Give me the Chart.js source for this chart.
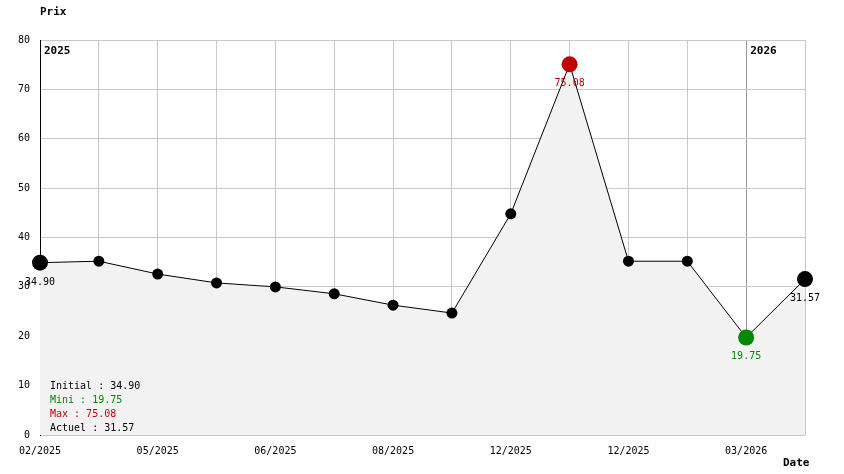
<!DOCTYPE html>
<html><head><meta charset="utf-8">
<script src="https://cdn.jsdelivr.net/npm/chart.js@4/dist/chart.umd.min.js"></script>
<style>html,body{margin:0;padding:0;background:#fff}#wrap{width:844px;height:474px}</style>
</head><body><div id="wrap"><canvas id="c" width="844" height="474"></canvas></div>
<script>
const categories = ['02/2025','03/2025','05/2025','05/2025','06/2025','07/2025','08/2025','09/2025','12/2025','12/2025','12/2025','01/2026','03/2026','04/2026'];
const tickLabels = ['02/2025','','05/2025','','06/2025','','08/2025','','12/2025','','12/2025','','03/2026',''];
const prices = [34.90, 35.2, 32.6, 30.8, 30.0, 28.6, 26.3, 24.7, 44.8, 75.08, 35.2, 35.2, 19.75, 31.57];
const yearLabels = [{index:0, text:'2025'},{index:12, text:'2026'}];
const stats = [['Initial : 34.90','#000'],['Mini : 19.75','#008800'],['Max : 75.08','#c00000'],['Actuel : 31.57','#000']];

const FONT = '"DejaVu Sans Mono", monospace';
const iMax = prices.indexOf(Math.max(...prices));
const iMin = prices.indexOf(Math.min(...prices));
const last = prices.length - 1;
const ptColor = prices.map((v,i)=> i===iMax ? '#c00000' : (i===iMin ? '#008800' : '#000'));
const ptRadius = prices.map((v,i)=> (i===0||i===last||i===iMax||i===iMin) ? 8 : 5.5);

const overlay = {
  id:'overlay',
  afterDatasetsDraw(chart){
    const ctx = chart.ctx, x = chart.scales.x, y = chart.scales.y, ca = chart.chartArea;
    ctx.save();
    ctx.font = 'bold 11px ' + FONT;
    ctx.fillStyle = '#000';
    ctx.textBaseline = 'middle';
    ctx.textAlign = 'left';
    yearLabels.forEach(l => ctx.fillText(l.text, x.getPixelForValue(l.index) + 4, ca.top + 11));
    ctx.fillText('Prix', 40, 12);
    ctx.fillText('Date', 783, 463);
    ctx.font = '10px ' + FONT;
    // value labels
    const lab = (i, dy) => {
      ctx.fillStyle = ptColor[i];
      ctx.textAlign = 'center';
      ctx.fillText(prices[i].toFixed(2), x.getPixelForValue(i), y.getPixelForValue(prices[i]) + dy);
    };
    lab(0, 20); lab(iMax, 19); lab(iMin, 19); lab(last, 19);
    ctx.textAlign = 'left';
    stats.forEach((s,k) => { ctx.fillStyle = s[1]; ctx.fillText(s[0], 50, 386 + k*14); });
    ctx.restore();
  }
};

new Chart(document.getElementById('c'), {
  type:'line',
  data:{ labels: categories, datasets:[{
    data: prices,
    borderColor:'#000', borderWidth:1,
    backgroundColor:'#f2f2f2', fill:'origin',
    pointBackgroundColor: ptColor, pointBorderColor: ptColor,
    pointRadius: ptRadius, pointBorderWidth:0, tension:0, clip:false
  }]},
  options:{
    responsive:false, animation:false, devicePixelRatio:1,
    layout:{ padding:{ left:0, top:40, right:39, bottom:0 } },
    plugins:{ legend:{display:false}, tooltip:{enabled:false} },
    scales:{
      x:{
        offset:false,
        afterFit(s){ s.height = 39; },
        grid:{ drawTicks:false, color:(c)=> c.index===12 ? '#999999' : '#c8c8c8', lineWidth:1 },
        border:{ display:false },
        ticks:{ autoSkip:false, maxRotation:0, padding:10, color:'#000', font:{family:FONT, size:10},
          callback:(v,i)=> tickLabels[i] }
      },
      y:{
        min:0, max:80,
        afterFit(s){ s.width = 40; },
        grid:{ drawTicks:false, color:'#c8c8c8' },
        border:{ display:true, color:'#000' },
        ticks:{ stepSize:10, padding:10, color:'#000', font:{family:FONT, size:10} }
      }
    }
  },
  plugins:[overlay]
});
</script></body></html>
